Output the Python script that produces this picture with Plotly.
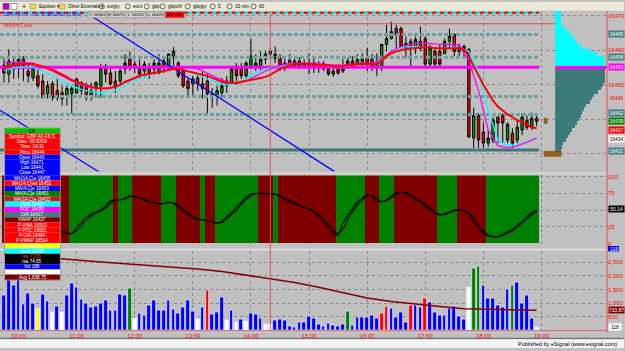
import plotly.graph_objects as go
import pandas as pd

# ---------------- data ----------------
bar_times = pd.date_range("2009-06-30 09:45", periods=111, freq="5min")
hour_ticks = ["10:00", "11:00", "12:00", "13:00", "14:00", "15:00", "16:00", "17:00", "18:00", "19:00"]

open_ = [
 16455.7, 16453.1, 16456.3, 16454.9, 16457.4, 16454.0, 16452.0, 16452.6, 16451.1, 16447.4,
 16450.3, 16448.3, 16447.7, 16446.9, 16447.4, 16447.7, 16450.6, 16449.7, 16446.9, 16449.1,
 16449.7, 16455.4, 16453.4, 16451.1, 16451.1, 16454.6, 16457.4, 16456.0, 16454.9, 16454.0,
 16454.9, 16454.6, 16453.4, 16456.9, 16454.9, 16458.3, 16456.3, 16454.0, 16451.1, 16450.3,
 16452.0, 16450.3, 16451.1, 16447.4, 16446.9, 16447.7, 16449.7, 16450.6, 16455.4, 16454.9,
 16452.6, 16454.9, 16454.9, 16455.1, 16457.4, 16459.7, 16457.7, 16457.7, 16454.9, 16457.1,
 16456.9, 16455.4, 16456.3, 16456.3, 16456.3, 16454.9, 16456.0, 16454.6, 16453.1, 16454.9,
 16454.0, 16455.4, 16456.9, 16456.0, 16456.0, 16457.7, 16457.4, 16454.9, 16455.1, 16461.7,
 16463.4, 16466.3, 16466.3, 16460.6, 16462.6, 16461.1, 16460.6, 16463.4, 16456.0, 16459.7,
 16459.7, 16459.1, 16462.6, 16464.6, 16459.7, 16461.1, 16460.3, 16434.6, 16441.1, 16436.3,
 16433.1, 16434.0, 16440.6, 16441.1, 16434.0, 16436.0, 16434.0, 16436.9, 16439.7, 16437.7, 16440.3]
high = [
 16457.7, 16460.3, 16457.7, 16458.3, 16458.3, 16456.0, 16456.0, 16454.9, 16453.1, 16451.1,
 16451.1, 16452.0, 16449.7, 16449.7, 16449.7, 16452.0, 16451.1, 16450.6, 16450.6, 16451.1,
 16456.0, 16456.0, 16454.9, 16454.0, 16454.6, 16458.9, 16459.7, 16456.9, 16457.4, 16456.9,
 16456.3, 16457.4, 16458.9, 16457.7, 16459.1, 16460.9, 16456.9, 16454.9, 16452.0, 16452.6,
 16453.4, 16454.0, 16453.1, 16449.1, 16449.7, 16452.0, 16452.6, 16454.9, 16456.3, 16456.3,
 16456.9, 16463.4, 16458.9, 16459.7, 16459.7, 16460.6, 16461.1, 16458.9, 16457.7, 16458.9,
 16457.7, 16458.0, 16457.4, 16459.1, 16457.7, 16456.9, 16456.9, 16456.0, 16455.1, 16456.0,
 16457.4, 16457.7, 16458.3, 16458.9, 16459.1, 16460.6, 16458.9, 16459.1, 16461.7, 16467.4,
 16468.3, 16467.4, 16466.9, 16464.0, 16463.4, 16464.0, 16466.9, 16464.0, 16461.7, 16460.3,
 16461.7, 16463.4, 16466.3, 16464.9, 16462.0, 16461.7, 16460.6, 16443.4, 16441.7, 16439.1,
 16436.9, 16440.6, 16440.9, 16441.7, 16439.1, 16437.4, 16439.7, 16441.7, 16441.1, 16442.0, 16441.7]
low = [
 16450.6, 16450.6, 16451.7, 16452.0, 16451.1, 16450.6, 16451.1, 16448.9, 16446.0, 16446.0,
 16445.4, 16445.4, 16444.0, 16444.0, 16441.7, 16447.4, 16447.1, 16445.4, 16445.4, 16446.3,
 16446.3, 16450.6, 16449.7, 16447.7, 16449.7, 16453.1, 16454.0, 16453.4, 16452.0, 16452.0,
 16451.7, 16452.9, 16453.1, 16453.4, 16454.6, 16454.6, 16452.0, 16449.1, 16446.3, 16446.9,
 16448.3, 16446.0, 16441.7, 16443.4, 16444.0, 16446.3, 16447.7, 16450.0, 16451.1, 16451.7,
 16452.0, 16454.6, 16454.0, 16454.0, 16456.0, 16457.4, 16456.3, 16454.0, 16454.0, 16454.9,
 16454.9, 16454.6, 16454.6, 16453.1, 16453.4, 16453.4, 16454.0, 16452.6, 16452.3, 16452.9,
 16453.4, 16454.6, 16454.9, 16454.9, 16454.9, 16454.0, 16454.0, 16452.6, 16454.0, 16459.7,
 16463.1, 16460.6, 16460.6, 16457.7, 16454.9, 16458.9, 16459.7, 16454.6, 16455.4, 16455.4,
 16455.4, 16458.9, 16460.6, 16458.3, 16458.3, 16458.3, 16434.6, 16431.7, 16431.7, 16431.7,
 16432.0, 16433.1, 16433.1, 16433.1, 16433.1, 16431.7, 16433.1, 16435.4, 16436.9, 16436.9, 16438.0]
close = [
 16453.4, 16456.9, 16454.6, 16457.4, 16455.4, 16452.6, 16454.9, 16449.7, 16446.3, 16449.7,
 16446.3, 16446.3, 16446.0, 16448.9, 16448.9, 16451.7, 16448.3, 16446.3, 16448.3, 16450.6,
 16454.9, 16453.1, 16450.3, 16449.4, 16454.0, 16456.3, 16455.1, 16454.9, 16453.1, 16456.0,
 16453.4, 16456.3, 16456.3, 16454.9, 16458.9, 16459.7, 16452.6, 16449.7, 16448.9, 16451.7,
 16450.3, 16448.9, 16447.4, 16446.3, 16448.3, 16449.7, 16451.1, 16454.6, 16452.6, 16452.6,
 16456.3, 16458.3, 16456.3, 16457.4, 16458.9, 16458.9, 16458.9, 16454.9, 16456.3, 16456.0,
 16455.4, 16456.9, 16455.4, 16454.9, 16454.9, 16456.0, 16454.6, 16453.1, 16454.0, 16453.4,
 16454.9, 16456.9, 16456.0, 16457.4, 16457.4, 16456.0, 16455.4, 16456.6, 16461.7, 16463.4,
 16465.4, 16464.6, 16461.1, 16462.0, 16461.1, 16463.1, 16462.6, 16456.0, 16460.6, 16456.0,
 16456.0, 16462.6, 16464.0, 16459.7, 16461.1, 16459.7, 16434.9, 16441.1, 16434.0, 16433.1,
 16434.6, 16439.7, 16438.9, 16438.9, 16438.6, 16433.1, 16437.7, 16440.6, 16437.7, 16440.3, 16439.4]

ma_red = [
 16455.1, 16455.4, 16455.7, 16456.0, 16456.0, 16456.0, 16456.0, 16455.7, 16455.4, 16454.9,
 16454.3, 16453.7, 16452.9, 16452.3, 16451.4, 16450.9, 16450.3, 16449.7, 16449.4, 16449.1,
 16448.9, 16448.9, 16449.1, 16449.4, 16450.0, 16450.9, 16451.4, 16452.0, 16452.6, 16452.9,
 16453.1, 16453.4, 16453.7, 16454.0, 16454.3, 16454.6, 16454.6, 16454.3, 16454.0, 16453.7,
 16453.4, 16453.1, 16452.6, 16452.0, 16451.4, 16450.9, 16450.6, 16450.6, 16450.6, 16450.9,
 16451.1, 16451.4, 16451.7, 16452.0, 16452.3, 16452.9, 16453.7, 16454.6, 16455.1, 16455.7,
 16456.0, 16456.0, 16456.0, 16456.0, 16456.0, 16455.7, 16455.7, 16455.7, 16455.4, 16455.4,
 16455.4, 16455.7, 16455.7, 16456.0, 16456.0, 16456.0, 16456.0, 16456.0, 16456.9, 16458.3,
 16459.1, 16459.7, 16460.0, 16460.3, 16460.6, 16460.6, 16460.9, 16460.9, 16460.9, 16460.6,
 16460.6, 16460.6, 16460.6, 16460.6, 16460.6, 16460.3, 16458.3, 16455.4, 16452.6, 16450.0,
 16447.7, 16445.4, 16443.7, 16442.6, 16441.4, 16440.6, 16439.7, 16439.1, 16438.3, 16437.7, 16437.4]
# cyan and magenta averages, read at every second bar
ma_cyan = [
 16454.0, 16454.9, 16455.1, 16455.1, 16454.0, 16452.6, 16451.1, 16449.7, 16448.6, 16448.0,
 16447.7, 16448.0, 16448.9, 16450.6, 16451.7, 16452.9, 16453.7, 16454.3, 16454.6, 16454.0,
 16452.9, 16451.7, 16450.6, 16450.0, 16450.3, 16451.7, 16453.4, 16454.6, 16455.1, 16455.7,
 16456.0, 16456.0, 16456.0, 16455.7, 16455.4, 16455.4, 16455.7, 16456.0, 16456.0, 16457.4,
 16459.7, 16460.9, 16461.1, 16461.1, 16460.9, 16460.6, 16460.9, 16460.9, 16459.7, 16454.0,
 16442.6, 16434.0, 16432.3, 16432.6, 16433.4, 16434.3]
ma_magenta = [
 16456.3, 16456.6, 16456.6, 16456.3, 16455.1, 16454.0, 16452.6, 16451.1, 16450.0, 16449.1,
 16448.9, 16449.1, 16450.0, 16451.4, 16452.6, 16453.1, 16453.7, 16454.3, 16454.9, 16455.1,
 16454.6, 16453.4, 16452.0, 16450.9, 16450.3, 16451.1, 16452.6, 16454.0, 16455.1, 16456.0,
 16456.3, 16456.3, 16456.3, 16456.0, 16455.7, 16455.7, 16456.0, 16456.3, 16456.3, 16457.4,
 16459.7, 16461.1, 16461.7, 16462.0, 16462.0, 16461.7, 16461.7, 16461.4, 16456.9, 16448.3,
 16436.9, 16432.3, 16431.7, 16432.3, 16433.4, 16434.6]

# horizontal study levels (price, kind)
level_prices = [16470.9, 16467.7, 16464.6, 16458.0, 16455.1, 16446.6, 16441.4, 16431.1]
level_kinds = ["redcyan", "red", "teal_dash", "teal_dash", "poc", "teal_dash", "teal_dash", "teal_solid"]

# drawn trend lines
trend1_t = ["2009-06-30 11:11:36", "2009-06-30 15:26:00"]
trend1_p = [16470.6, 16424.9]
trend2_t = ["2009-06-30 09:40:52", "2009-06-30 11:24:00"]
trend2_p = [16442.6, 16424.6]
cursor_time = "2009-06-30 14:20"

# volume profile
profile_prices = [16471, 16470, 16469, 16468, 16467, 16466, 16465, 16464, 16463, 16462,
                  16461, 16460, 16459, 16458, 16457, 16456, 16455, 16454, 16453, 16452,
                  16451, 16450, 16449, 16448, 16447, 16446, 16445, 16444, 16443, 16442,
                  16441, 16440, 16439, 16438, 16437, 16436, 16435, 16434, 16433, 16432, 16431]
profile_vol = [6, 6, 6, 6, 8, 11, 16, 19, 21, 24, 28, 36, 44, 51, 52, 52, 54, 52, 52, 52,
               52, 50, 48, 45, 41, 38, 36, 32, 30, 28, 27, 25, 23, 21, 18, 16, 14, 11, 8, 7, 6]
profile_poc = 16455

# oscillator
osc_k = [
 35, 33, 31, 29, 27, 25, 23, 21, 20, 19,
 18.5, 18, 17, 15, 14, 24, 31, 39, 44, 47,
 50, 56, 64, 65, 65, 68, 71, 70, 67, 64,
 62, 60, 59, 60, 62, 60, 54, 48, 43, 38,
 35.5, 35, 34, 32, 29.5, 33, 40, 46, 54, 62,
 69, 74, 75, 75, 74.5, 74.5, 73, 70, 66, 62,
 59, 55, 53, 51, 47, 40, 33, 24, 15, 12,
 30, 43, 53, 62, 68, 73.5, 70, 63, 62, 65,
 71, 76, 77, 75, 70, 66, 61, 56, 50, 45,
 42, 44, 47, 50, 50.5, 48, 44, 33, 23, 15,
 10.5, 9.8, 10, 14, 17, 21, 27, 34, 40, 46, 51]
osc_d = [
 36, 34, 32, 30, 28, 26, 24, 22, 21, 20,
 19, 18.5, 18, 16, 15, 19, 27, 35, 41, 45.5,
 48.5, 53, 60, 64.5, 65, 66.5, 70, 70.5, 68.5, 65.5,
 63, 61, 59.5, 59.5, 61, 61, 57, 51, 45.5, 40.5,
 37, 35.5, 34.5, 33, 31, 31, 36.5, 43, 50, 58,
 65.5, 71.5, 74.5, 75, 74.8, 74.5, 74, 71.5, 68, 64,
 60.5, 57, 54, 52, 49, 43.5, 36.5, 28.5, 19.5, 13.5,
 21, 36.5, 48, 57.5, 65, 71, 72, 66.5, 62.5, 63.5,
 68, 73.5, 76.5, 76, 72.5, 68, 63.5, 58.5, 53, 47.5,
 43.5, 43, 45.5, 48.5, 50, 49, 46, 38.5, 28, 19,
 12.5, 10.2, 10, 12, 15.5, 19, 24, 30.5, 37, 43, 48]
osc_band_runs = [("R", 14), ("G", 9), ("R", 1), ("G", 3), ("R", 6), ("G", 3), ("R", 5), ("G", 1),
                 ("R", 2), ("G", 9), ("R", 3), ("G", 1), ("R", 12), ("G", 6), ("R", 3), ("G", 3),
                 ("R", 9), ("G", 4), ("R", 6), ("G", 11)]

# signal dots strip (bar numbers, colour code)
dot_bars = [12, 13, 14, 17, 18, 20, 21, 23, 25, 27, 28, 30, 32, 33, 36, 38, 39, 41, 43, 45, 47, 49, 50,
            51, 53, 71, 79, 80, 83, 85, 86, 87, 88, 90, 91, 96, 97, 98, 100, 102, 104, 106, 108]
dot_kind = "bbbbbbbbbbbbbbbbbbbbbbbbbbbbbbbbbbbrbrbbbbb"

# volume
volume = [
 1292, 2000, 1640, 2100, 952, 1350, 1003, 807, 1314, 1075,
 652, 880, 663, 1278, 1712, 1593, 1133, 988, 843, 880,
 1003, 1086, 735, 735, 1303, 1278, 1557, 445, 626, 554,
 905, 1097, 735, 735, 1110, 771, 615, 858, 1097, 699,
 409, 833, 1484, 579, 652, 1195, 373, 724, 279, 398,
 314, 615, 568, 434, 217, 205, 350, 409, 362, 150,
 120, 290, 290, 507, 434, 205, 134, 253, 170, 145,
 205, 688, 193, 471, 471, 471, 554, 446, 615, 869,
 808, 471, 663, 278, 929, 917, 833, 1158, 1014, 639,
 554, 542, 808, 893, 507, 410, 1580, 2257, 2342, 1653,
 1158, 1158, 929, 833, 1520, 1653, 1762, 989, 1279, 446, 118]
volume_kind = ("bbbbbbbybb" "wbwbbbbbbb" "bbbbbbgwbb" "bbbbbbbbbb" "wbrbbbwbwb"
               "wbbbwwbbbb" "bbbbbbbbbb" "bgbbbbbbrr" "bbbbrbbrbb" "bbbbbbwggb" "bbbbbgbbbbw")
vol_ma_clock = ["09:45", "10:10", "10:35", "11:00", "11:25", "11:50", "12:15", "12:40", "13:05",
                "13:30", "13:55", "14:20", "14:45", "15:10", "15:35", "16:00", "16:25", "16:50",
                "17:15", "17:40", "18:05", "18:30", "18:55"]
vol_ma = [2800, 2720, 2650, 2580, 2510, 2450, 2390, 2330, 2250, 2160, 2030, 1900,
          1760, 1580, 1380, 1190, 1060, 960, 870, 790, 780, 760, 735]

# right-axis value boxes
price_box_vals = [16464.6, 16458.0, 16455.1, 16446.3, 16441.7, 16439.4, 16436.9, 16434.3, 16430.9]
price_box_text = ["16465", "16458", "16455", "16446", "16442", "16439", "16437", "16434", "16431"]
price_box_bg = ["#3f7f7f", "#3f7f7f", "#ff00ff", "rgba(0,0,0,0)", "#3f7f7f", "#008000", "#ff0000", "#ffffff", "#3f7f7f"]
price_box_fc = ["#ffffff", "#ffffff", "#ffffff", "#ff0000", "#ffffff", "#ffffff", "#ffffff", "#000000", "#ffffff"]

# data window table
table_labels = ["Off", "Symbol: GBP A0-FX.S", "Date: 06/30/09", "Time: 16:31", "Price 16444",
                "Open 16443", "High 16471", "Low 16441", "Close 16447", "MA(14,C)e 16455",
                "MA(14,C)vw 16452", "MA(4,C)e 16453", "MA(4,C)e 16451", "MA(14,C)e 16453",
                "VWA 16457", "POC 16455", "LVA 16417", "VWAP 16437", "P-VWA 16503", "P-POC 16501",
                "P-LVA 16484", "P-VWAP 16514", "PL 16420", "pma 16448", "rsa 73.55", "rsa 74.65",
                "Vol 188", "", "Avg 1,838.75"]
table_fill = ["#00c000", "#ff0000", "#ff0000", "#ff0000", "#ff0000",
              "#0000ff", "#0000ff", "#0000ff", "#0000ff", "#0000ff",
              "#ff0000", "#0000ff", "#008000", "#b22222",
              "#00ffff", "#ff00ff", "#3f7f7f", "#800000", "#ff0000", "#ff0000",
              "#ff0000", "#ff0000", "#ffff00", "#00ffff", "#000000", "#000000",
              "#0000ff", "#ffffff", "#800000"]
table_font = ["#000000"] + ["#ffffff"] * 23 + ["#ff3030", "#ffffff", "#ffffff", "#000000", "#ffffff"]

toolbar_items = ["Equities ▾", "Other Externals ▾", "eurjpy", "euro", "gbp", "gbpchf", "gbpjpy", "5", "15 min", "60"]
ohlc_header = ["O 16461", "H 16470", "L 16415", "C 16420", "Net -20"]

# ---------------- layout geometry (pixels) ----------------
W, H = 625, 351
FONT = "Liberation Sans"
PX_FIRST, PX_STEP, PX_RIGHT = 4.0, 4.85, 608.0
t0 = bar_times[0]
step = pd.Timedelta(minutes=5)


def px(x):
    return x / W


def py(y):
    return 1 - y / H


def t_at(xpix):
    return t0 + step * ((xpix - PX_FIRST) / PX_STEP)


x_range = [t_at(0), t_at(PX_RIGHT)]
X_DOM = [0, px(PX_RIGHT)]
P_TOP_PX, P_BOT_PX = 9, 172
price_range = [16474 - P_BOT_PX / 3.5, 16474 - P_TOP_PX / 3.5]
hour_vals = ["2009-06-30 " + h for h in hour_ticks]

fig = go.Figure()

# ---- price panel ----
lvl_end = t_at(540)
for p, kind in zip(level_prices, level_kinds):
    if kind == "redcyan":
        fig.add_trace(go.Scatter(x=[x_range[0], lvl_end], y=[p, p], mode="lines",
                                 line=dict(color="#00e0e0", width=2), xaxis="x", yaxis="y"))
        fig.add_trace(go.Scatter(x=[x_range[0], lvl_end], y=[p, p], mode="lines",
                                 line=dict(color="#ff0000", width=2, dash="4px,4px"), xaxis="x", yaxis="y"))
    elif kind == "red":
        fig.add_trace(go.Scatter(x=[x_range[0], x_range[1]], y=[p, p], mode="lines",
                                 line=dict(color="#e04848", width=1), xaxis="x", yaxis="y"))
    elif kind == "teal_dash":
        fig.add_trace(go.Scatter(x=[x_range[0], lvl_end], y=[p, p], mode="lines",
                                 line=dict(color="#6f9e9e", width=3, dash="4px,2px"), xaxis="x", yaxis="y"))
    elif kind == "teal_solid":
        fig.add_trace(go.Scatter(x=[x_range[0], lvl_end], y=[p, p], mode="lines",
                                 line=dict(color="#3a7878", width=3), xaxis="x", yaxis="y"))
    elif kind == "poc":
        fig.add_trace(go.Scatter(x=[x_range[0], lvl_end], y=[p, p], mode="lines",
                                 line=dict(color="#ff00ff", width=3), xaxis="x", yaxis="y"))

for tt, pp in ((trend1_t, trend1_p), (trend2_t, trend2_p)):
    fig.add_trace(go.Scatter(x=tt, y=pp, mode="lines", line=dict(color="#0000ff", width=1.3),
                             xaxis="x", yaxis="y"))

prof_colors = ["#00ffff" if p > profile_poc else ("#ff00ff" if p == profile_poc else "#3d7b79")
               for p in profile_prices]
fig.add_trace(go.Bar(x=profile_vol, y=profile_prices, orientation="h", width=1,
                     marker=dict(color=prof_colors, line=dict(width=0)), xaxis="x4", yaxis="y"))

fig.add_trace(go.Candlestick(x=bar_times, open=open_, high=high, low=low, close=close,
                             increasing=dict(line=dict(color="#000000", width=1), fillcolor="#00a000"),
                             decreasing=dict(line=dict(color="#000000", width=1), fillcolor="#ff0000"),
                             whiskerwidth=0, xaxis="x", yaxis="y"))

fig.add_trace(go.Scatter(x=bar_times[::2], y=ma_cyan, mode="lines",
                         line=dict(color="#00ffff", width=1.3), xaxis="x", yaxis="y"))
fig.add_trace(go.Scatter(x=bar_times[::2], y=ma_magenta, mode="lines",
                         line=dict(color="#ff00ff", width=1.3), xaxis="x", yaxis="y"))
fig.add_trace(go.Scatter(x=bar_times, y=ma_red, mode="lines",
                         line=dict(color="#ff0000", width=2), xaxis="x", yaxis="y"))

# ---- oscillator panel: one background block per run of bars ----
run_x, run_w, run_c = [], [], []
pos = 0
for code, n in osc_band_runs:
    start = bar_times[pos] - step / 2
    run_x.append(start + step * n / 2)
    run_w.append(n * 300000)
    run_c.append("#008000" if code == "G" else "#800000")
    pos += n
fig.add_trace(go.Bar(x=run_x, y=[101.5] * len(run_x), width=run_w,
                     marker=dict(color=run_c, line=dict(width=0)), xaxis="x2", yaxis="y2"))
fig.add_trace(go.Scatter(x=bar_times, y=osc_d, mode="lines", line=dict(color="#000000", width=1.1),
                         xaxis="x2", yaxis="y2"))
fig.add_trace(go.Scatter(x=bar_times, y=osc_k, mode="lines", line=dict(color="#000000", width=1.1),
                         xaxis="x2", yaxis="y2"))

# ---- volume panel ----
vcmap = {"b": "#0000ff", "w": "#ffffff", "r": "#ff0000", "g": "#008000", "y": "#ffff00"}
fig.add_trace(go.Bar(x=bar_times, y=volume, width=230000,
                     marker=dict(color=[vcmap[c] for c in volume_kind], line=dict(color="#eeeeff", width=0.7)),
                     xaxis="x3", yaxis="y3"))
fig.add_trace(go.Scatter(x=["2009-06-30 " + c for c in vol_ma_clock], y=vol_ma, mode="lines",
                         line=dict(color="#800000", width=1.5), xaxis="x3", yaxis="y3"))
# dots strip just above the volume pane (drawn outside the pane on purpose)
strip_val = (333 - 248) * 2900 / 80
fig.add_trace(go.Scatter(x=[bar_times[i] for i in dot_bars], y=[strip_val] * len(dot_bars), mode="markers",
                         marker=dict(symbol="square", size=2.2, color=[vcmap[c] for c in dot_kind]),
                         cliponaxis=False, xaxis="x3", yaxis="y3"))

# ---- axes ----
grid = dict(showgrid=True, gridcolor="#8a8a8a", griddash="dot", gridwidth=1, zeroline=False)
xcommon = dict(domain=X_DOM, type="date", tickvals=hour_vals, ticktext=hour_ticks, **grid)
tickf = dict(color="#ff0000", size=6, family=FONT)
fig.update_layout(
    width=W, height=H, margin=dict(l=0, r=0, t=0, b=0),
    paper_bgcolor="#c0c0c0", plot_bgcolor="#c0c0c0", showlegend=False, hovermode=False,
    font=dict(family=FONT), bargap=0,
    xaxis=dict(anchor="y", range=x_range, showticklabels=False, rangeslider=dict(visible=False), **xcommon),
    xaxis2=dict(anchor="y2", matches="x", showticklabels=False, **xcommon),
    xaxis3=dict(anchor="y3", matches="x", showticklabels=True, tickfont=tickf,
                ticks="", showline=True, linecolor="#d07070", **xcommon),
    xaxis4=dict(domain=[px(556), px(PX_RIGHT)], anchor="y", range=[0, 54], visible=False),
    yaxis=dict(domain=[py(P_BOT_PX), py(P_TOP_PX)], anchor="x", side="right", range=price_range,
               tickvals=[16430, 16440, 16450, 16460, 16470], ticktext=["", "", "16450", "16460", "16470"],
               tickfont=tickf, ticks="", **grid),
    yaxis2=dict(domain=[py(245), py(176)], anchor="x2", side="right", range=[0, 101.5],
                tickvals=[0, 25, 50, 75, 100], ticktext=["0", "25", "", "75", "100"],
                tickfont=tickf, ticks="", **grid),
    yaxis3=dict(domain=[py(333), py(253)], anchor="x3", side="right", range=[0, 2900],
                tickvals=[500, 1000, 1500, 2000, 2500], tickformat=",", tickfont=tickf, ticks="", **grid),
)

shapes = []
ann = []


def rect(x0, y0, x1, y1, fill, line=None, lw=0, layer="above"):
    shapes.append(dict(type="rect", xref="paper", yref="paper", x0=px(x0), x1=px(x1), y0=py(y1), y1=py(y0),
                       fillcolor=fill, line=dict(color=line or fill, width=lw), layer=layer))


def text(x, y, s, color="#000000", size=5.5, xanchor="left", **kw):
    ann.append(dict(xref="paper", yref="paper", x=px(x), y=py(y), text=s, showarrow=False,
                    xanchor=xanchor, yanchor="middle", font=dict(color=color, size=size, family=FONT), **kw))


# panel separators and right edge
rect(0, 172.5, PX_RIGHT, 175.5, "#d0d0d0", layer="below")
rect(0, 250, PX_RIGHT, 252, "#dcdcdc", layer="below")
shapes.append(dict(type="line", xref="paper", yref="paper", x0=px(PX_RIGHT), x1=px(PX_RIGHT),
                   y0=py(335), y1=py(9), line=dict(color="#ff4040", width=1)))
shapes.append(dict(type="line", xref="x", yref="paper", x0=cursor_time, x1=cursor_time,
                   y0=py(333), y1=py(9), line=dict(color="#e05050", width=1)))

# toolbar
rect(0, 0, W, 9, "#ece9d8")
rect(3, 1.5, 9, 7.5, "#c000c0", "#404040", 0.5)
rect(11, 1.5, 17, 7.5, "#ffffff", "#404040", 0.5)
text(20, 4.5, "+", size=7)
item_x = [30, 59, 102, 128, 147, 163, 188, 213, 230, 254]
for xi, s in zip(item_x, toolbar_items):
    if xi < 100:
        rect(xi, 2, xi + 6, 7, "#f0d060", "#a08020", 0.5)
        text(xi + 7.5, 4.7, s, size=4.6)
    else:
        shapes.append(dict(type="circle", xref="paper", yref="paper", x0=px(xi - 2.5), x1=px(xi + 2.5),
                           y0=py(7), y1=py(2), line=dict(color="#303030", width=0.7)))
        text(xi + 3.5, 4.7, s, size=4.6)
rect(0, 340.5, W, 342, "#707070")
rect(0, 342, W, H, "#f2f2f2")
text(620, 346.5, "Published by eSignal (www.esignal.com)", size=5.5, xanchor="right")

# chart header
text(1.5, 13, "GBP A0-FX - UK STERLING (5 Min)", color="#0000ff", size=4.9)
for k, s in enumerate(ohlc_header):
    x0 = 88 + k * 19.4
    bg = "#ff0000" if s.startswith("Net") else "#d4d0c8"
    rect(x0, 10, x0 + 19, 16, bg, "#808080", 0.5)
    text(x0 + 9.5, 13, s, color="#000000", size=4.4, xanchor="center")
text(2, 23, "MA(H,C)vw", color="#ff0000", size=5.5)

# right axis boxes
for v, s, bg, fc in zip(price_box_vals, price_box_text, price_box_bg, price_box_fc):
    ann.append(dict(xref="paper", yref="y", x=px(609), y=v, text=s, showarrow=False, xanchor="left",
                    yanchor="middle", bgcolor=bg, width=15, height=6, borderpad=0,
                    font=dict(color=fc, size=5, family=FONT)))
ann.append(dict(xref="paper", yref="y2", x=px(609), y=osc_k[-1], text="50.14", showarrow=False,
                xanchor="left", yanchor="middle", bgcolor="#000000", width=15, height=6, borderpad=0,
                font=dict(color="#ffffff", size=5, family=FONT)))
ann.append(dict(xref="paper", yref="y3", x=px(609), y=vol_ma[-1], text="733.87", showarrow=False,
                xanchor="left", yanchor="middle", bgcolor="#800000", width=15, height=6, borderpad=0,
                font=dict(color="#ffffff", size=5, family=FONT)))
ann.append(dict(xref="paper", yref="y3", x=px(609), y=volume[-1], text=str(volume[-1]), showarrow=False,
                xanchor="left", yanchor="middle", bgcolor="#ffffff", width=12, height=6, borderpad=0,
                font=dict(color="#000000", size=5, family=FONT)))
rect(609, 247.5, 620, 253, "#0000ff")
text(614.5, 250.3, str(volume[-1]), color="#ffffff", size=5, xanchor="center")
rect(545, 151.5, 562, 156.5, "#a06010", "#604000", 0.5)
rect(545, 118, 548, 123, "#a06010", "#604000", 0.5)

# data-window table
ROW_H, TOP = 5.3, 128.15
rect(4.5, TOP - 0.5, 60.5, TOP + ROW_H * len(table_labels) + 0.5, "#e0e0e0", "#808080", 0.6)
for k, (s, bg, fc) in enumerate(zip(table_labels, table_fill, table_font)):
    y0 = TOP + k * ROW_H
    rect(5, y0, 60, y0 + ROW_H, bg)
    if s:
        text(32.5, y0 + ROW_H / 2 + 0.2, s, color=fc, size=4.6, xanchor="center")

fig.update_layout(shapes=shapes, annotations=ann)
fig.write_html("out.html")
